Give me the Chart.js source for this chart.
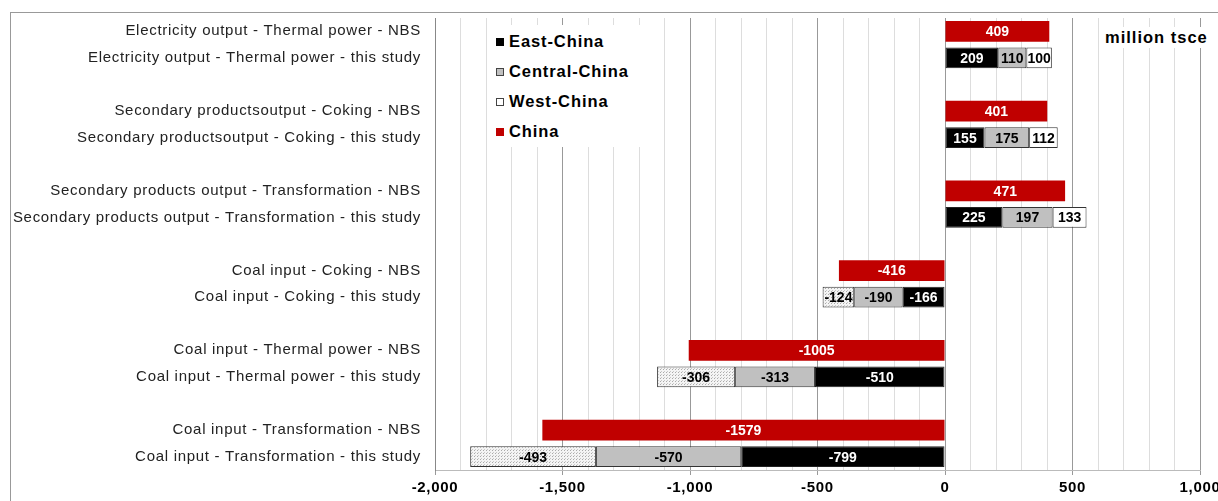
<!DOCTYPE html>
<html>
<head>
<meta charset="utf-8">
<script src="https://cdn.jsdelivr.net/npm/chart.js@4.4.1/dist/chart.umd.min.js"></script>
<style>
  html, body { margin: 0; padding: 0; background: #fff; }
  #wrap { position: relative; width: 1218px; height: 501px; overflow: hidden; font-family: Arial, "Liberation Sans", sans-serif; }
  #frame { position: absolute; left: 10px; top: 12px; width: 1300px; height: 600px; border-left: 1px solid #999; border-top: 1px solid #999; }
  #legend { position: absolute; left: 487px; top: 25px; width: 158px; height: 122px; background: #fff; }
  #legend div { position: absolute; left: 9px; font-weight: bold; font-size: 16.5px; letter-spacing: 0.9px; color: #000; white-space: nowrap; }
  #legend span { display: inline-block; width: 8px; height: 8px; margin-right: 5px; vertical-align: 1px; box-sizing: border-box; }
  #unit { position: absolute; left: 1099px; top: 27px; padding: 1px 6px; background: #fff; font-weight: bold; font-size: 16.5px; letter-spacing: 1px; color: #000; }
  canvas { position: absolute; left: 0; top: 0; }
</style>
</head>
<body>
<div id="wrap">
  <div id="frame"></div>
  <canvas id="chart" width="1218" height="501"></canvas>
  <div id="legend"></div>
  <div id="unit">million tsce</div>
</div>
<script>
// ---- data ----
var groups = [
    'Electricity output - Thermal power',
    'Secondary productsoutput - Coking',
    'Secondary products output - Transformation',
    'Coal input - Coking',
    'Coal input - Thermal power',
    'Coal input - Transformation'
];
var chinaNBS     = [409, 401, 471, -416, -1005, -1579];
var eastStudy    = [209, 155, 225, -166, -510, -799];
var centralStudy = [110, 175, 197, -190, -313, -570];
var westStudy    = [100, 112, 133, -124, -306, -493];
var xTicks       = [-2000, -1500, -1000, -500, 0, 500, 1000];

// ---- build rows: NBS, this study, gap ----
var labels = [], china = [], east = [], central = [], west = [];
groups.forEach(function(g, i) {
    labels.push(g + ' - NBS');        china.push(chinaNBS[i]); east.push(null); central.push(null); west.push(null);
    labels.push(g + ' - this study'); china.push(null); east.push(eastStudy[i]); central.push(centralStudy[i]); west.push(westStudy[i]);
    if (i < groups.length - 1) { labels.push(''); china.push(null); east.push(null); central.push(null); west.push(null); }
});

// dotted fill for negative West-China bars
function makeDots() {
    var c = document.createElement('canvas');
    c.width = 3; c.height = 3;
    var x = c.getContext('2d');
    x.fillStyle = '#f4f4f4'; x.fillRect(0, 0, 3, 3);
    x.fillStyle = '#aaa'; x.fillRect(0, 0, 1, 1);
    x.fillStyle = '#c8c8c8'; x.fillRect(1, 2, 1, 1);
    return x.createPattern(c, 'repeat');
}
var dots = makeDots();

// the source picture is a bit stretched sideways: widen axis text a little
var wideText = {
    id: 'wideText',
    beforeDraw: function(chart) { chart.ctx.letterSpacing = '0.7px'; },
    afterDraw: function(chart) { chart.ctx.letterSpacing = '0px'; }
};

var barLabels = {
    id: 'barLabels',
    afterDatasetsDraw: function(chart) {
        var ctx = chart.ctx;
        ctx.save();
        ctx.letterSpacing = '0px';
        ctx.font = 'bold 14px Arial, "Liberation Sans", sans-serif';
        ctx.textAlign = 'center';
        ctx.textBaseline = 'middle';
        chart.data.datasets.forEach(function(ds, di) {
            var meta = chart.getDatasetMeta(di);
            meta.data.forEach(function(el, i) {
                var v = ds.data[i];
                if (v === null) return;
                ctx.fillStyle = ds.labelColor;
                ctx.fillText(String(v), (el.x + el.base) / 2, el.y + 1);
            });
        });
        ctx.restore();
    }
};

var chart = new Chart(document.getElementById('chart'), {
    type: 'bar',
    data: {
        labels: labels,
        datasets: [
            { label: 'East-China', data: east, backgroundColor: '#000', borderColor: '#222', borderWidth: 1, borderSkipped: false, labelColor: '#fff' },
            { label: 'Central-China', data: central, backgroundColor: '#c0c0c0', borderColor: '#333', borderWidth: 1, borderSkipped: false, labelColor: '#000' },
            { label: 'West-China', data: west,
              backgroundColor: function(c) { var v = c.raw; return (v !== null && v < 0) ? dots : '#fff'; },
              borderColor: '#333', borderWidth: 1, borderSkipped: false, labelColor: '#000' },
            { label: 'China', data: china, backgroundColor: '#c00000', borderWidth: 0, labelColor: '#fff' }
        ]
    },
    options: {
        indexAxis: 'y',
        responsive: false,
        animation: false,
        layout: { padding: { left: 0, right: 18, top: 18, bottom: 0 } },
        datasets: { bar: { barPercentage: 0.78, categoryPercentage: 1 } },
        plugins: { legend: { display: false }, tooltip: { enabled: false } },
        scales: {
            x: {
                stacked: true,
                min: -2000, max: 1000,
                afterBuildTicks: function(s) {
                    var t = [];
                    for (var v = -2000; v <= 1000; v += 100) t.push({ value: v });
                    s.ticks = t;
                },
                afterFit: function(s) { s.paddingLeft = 0; s.paddingRight = 0; },
                ticks: {
                    autoSkip: false, maxRotation: 0, padding: 4, color: '#000',
                    font: { family: 'Arial, "Liberation Sans", sans-serif', size: 15, weight: 'bold' },
                    callback: function(v) { return xTicks.indexOf(v) >= 0 ? v.toLocaleString('en-US') : ''; }
                },
                grid: {
                    color: function(c) { return c.tick && c.tick.value % 500 === 0 ? '#999' : '#ddd'; },
                    tickColor: function(c) { return c.tick && c.tick.value % 500 === 0 ? '#999' : 'rgba(0,0,0,0)'; },
                    tickLength: 5, lineWidth: 1
                },
                border: { display: true, color: '#bbb' }
            },
            y: {
                stacked: true,
                afterFit: function(s) { s.width = 435; s.paddingTop = 0; s.paddingBottom = 0; },
                ticks: {
                    autoSkip: false, padding: 14, color: '#222',
                    font: { family: 'Arial, "Liberation Sans", sans-serif', size: 15 }
                },
                grid: { display: false, drawTicks: false },
                border: { display: true, color: '#888' }
            }
        }
    },
    plugins: [wideText, barLabels]
});

// legend overlay
var legendItems = [
    { text: 'East-China', bg: '#000', bd: '#000' },
    { text: 'Central-China', bg: '#c0c0c0', bd: '#444' },
    { text: 'West-China', bg: '#fff', bd: '#444' },
    { text: 'China', bg: '#c00000', bd: '#c00000' }
];
var html = '';
legendItems.forEach(function(it, i) {
    html += '<div style="top:' + (7 + i * 30) + 'px"><span style="background:' + it.bg + ';border:1px solid ' + it.bd + '"></span>' + it.text + '</div>';
});
document.getElementById('legend').innerHTML = html;
</script>
</body>
</html>
